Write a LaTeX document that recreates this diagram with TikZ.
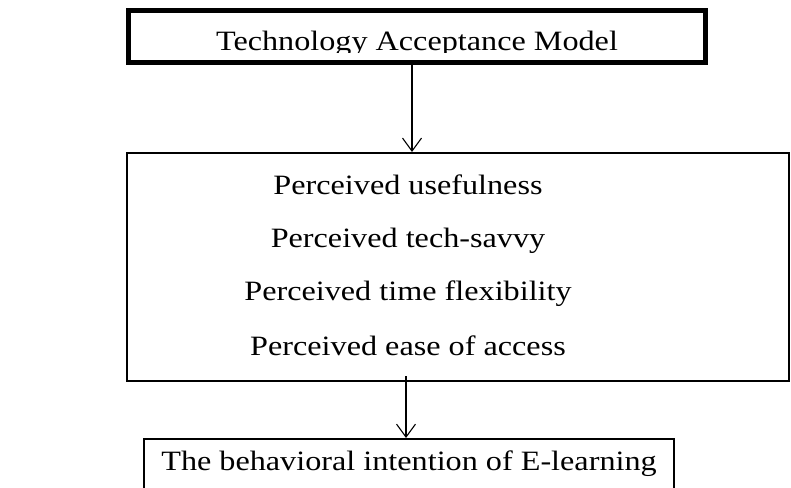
\documentclass[tikz,border=0pt]{standalone}
\usepackage{fontspec}
\usepackage{graphicx}
\setmainfont{Liberation Serif}
\usetikzlibrary{arrows.meta}
\newcommand\hstretch[1]{\scalebox{1.15}[1]{#1}}
\begin{document}
\begin{tikzpicture}[x=1pt,y=-1pt,
  lbl/.style={anchor=base, inner sep=0pt, font=\fontsize{28}{34}\selectfont},
  boxthick/.style={draw, line width=5pt, minimum width=577pt, minimum height=52pt, inner sep=0pt},
  boxthin/.style={draw, line width=2pt, inner sep=0pt},
  arr/.style={line width=1.1pt, -{Straight Barb[length=13pt,width=19pt,line width=1.1pt]}}]
\useasboundingbox (0,0) rectangle (791,487);
\clip (0,0) rectangle (791,487);
% boxes
\node[boxthick] (tam) at (417,36.5) {};
\node[boxthin, minimum width=662pt, minimum height=228pt] (perc) at (458,267) {};
\node[boxthin, minimum width=530pt, minimum height=80pt] (beh) at (409,479) {};
% top text, clipped at the bottom
\begin{scope}
\clip (126,10) rectangle (708,52.5);
\node[lbl] (tamtxt) at (417,50) {\hstretch{Technology Acceptance Model}};
\end{scope}
% middle texts
\node[lbl] (p1) at (408,194) {\hstretch{Perceived usefulness}};
\node[lbl] (p2) at (408,247) {\hstretch{Perceived tech-savvy}};
\node[lbl] (p3) at (408,300) {\hstretch{Perceived time flexibility}};
\node[lbl] (p4) at (408,355) {\hstretch{Perceived ease of access}};
% bottom text
\node[lbl] (btxt) at (409,470) {\hstretch{The behavioral intention of E-learning}};
% arrows
\coordinate (a1) at (412,0);
\coordinate (a2) at (406,0);
\draw[arr] (tam.south -| a1) -- (perc.north -| a1);
\draw[arr] ([yshift=6pt]perc.south -| a2) -- (beh.north -| a2);
\end{tikzpicture}
\end{document}
